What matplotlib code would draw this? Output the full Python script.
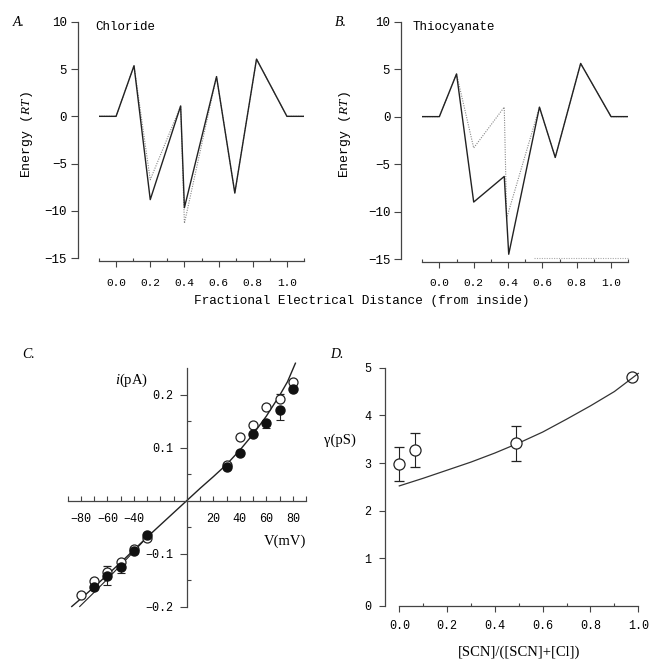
import matplotlib
matplotlib.use("Agg")
import matplotlib.pyplot as plt

plt.rcParams['font.family'] = ['Liberation Mono', 'DejaVu Sans']
plt.rcParams['mathtext.fontset'] = 'custom'
plt.rcParams['mathtext.rm'] = 'Liberation Serif'
plt.rcParams['mathtext.it'] = 'Liberation Serif:italic'
plt.rcParams['axes.unicode_minus'] = True

# --- energy profiles (A: chloride, B: thiocyanate) ---
cl_x = [-0.1, 0.0, 0.105, 0.2, 0.378, 0.4, 0.588, 0.695, 0.822, 1.0, 1.1]
cl_solid = [0, 0, 5.35, -8.8, 1.1, -9.65, 4.2, -8.1, 6.05, 0, 0]
cl_dotted = [0, 0, 5.35, -6.7, 1.1, -11.3, 4.2, -8.1, 6.05, 0, 0]

scn_x_solid = [-0.1, 0.0, 0.1, 0.2, 0.378, 0.404, 0.583, 0.675, 0.823, 1.0, 1.1]
scn_solid = [0, 0, 4.5, -9.0, -6.3, -14.5, 1.0, -4.3, 5.6, 0, 0]
scn_x_dotted = [-0.1, 0.0, 0.1, 0.2, 0.378, 0.392, 0.583, 0.675, 0.823, 1.0, 1.1]
scn_dotted = [0, 0, 4.5, -3.3, 1.0, -10.7, 1.0, -4.3, 5.6, 0, 0]
scn_trace_x = [0.55, 1.1]
scn_trace_y = [-14.85, -14.85]

dist_ticks = [0.0, 0.2, 0.4, 0.6, 0.8, 1.0]
dist_labels = ['0.0', '0.2', '0.4', '0.6', '0.8', '1.0']
energy_ticks = [-15, -10, -5, 0, 5, 10]

# --- C: single channel i-V ---
v_open = [-80, -70, -60, -50, -40, -30, 30, 40, 50, 60, 70, 80]
i_open = [-0.179, -0.151, -0.134, -0.116, -0.091, -0.071,
          0.067, 0.119, 0.143, 0.176, 0.191, 0.223]
i_open_err = [0, 0, 0.010, 0, 0, 0, 0, 0, 0, 0, 0.010, 0]
v_filled = [-70, -60, -50, -40, -30, 30, 40, 50, 60, 70, 80]
i_filled = [-0.164, -0.143, -0.125, -0.096, -0.065,
            0.064, 0.089, 0.125, 0.146, 0.171, 0.211]
i_filled_err = [0, 0.016, 0.011, 0, 0, 0, 0, 0, 0.010, 0.019, 0]

fit_v1 = [-87, -80, -70, -60, -50, -40, -30, -20, -10, 0, 10, 20, 30, 40, 50, 60, 70, 76, 82]
fit_i1 = [-0.200, -0.185, -0.163, -0.140, -0.117, -0.093, -0.069, -0.046, -0.023, 0,
          0.023, 0.045, 0.068, 0.095, 0.125, 0.159, 0.198, 0.224, 0.259]
fit_v2 = [-81, -70, -60, -50, -40, -30]
fit_i2 = [-0.200, -0.173, -0.148, -0.122, -0.096, -0.069]

# --- D: conductance vs mole fraction ---
frac = [0.0, 0.066, 0.488]
gamma = [2.98, 3.28, 3.41]
gamma_err = [0.36, 0.36, 0.36]
frac_last = [0.975]
gamma_last = [4.80]
fit_frac = [0.0, 0.1, 0.2, 0.3, 0.4, 0.5, 0.6, 0.7, 0.8, 0.9, 1.0]
fit_gamma = [2.52, 2.68, 2.85, 3.02, 3.21, 3.42, 3.65, 3.92, 4.20, 4.50, 4.88]

W, H = 654, 661
fig = plt.figure(figsize=(W / 100, H / 100), dpi=100)
AX_COLOR = '#444444'


def add_axes_px(left, top, right, bottom):
    return fig.add_axes([left / W, 1 - bottom / H, (right - left) / W, (bottom - top) / H])


def text_px(x, y, s, **kw):
    fig.text(x / W, 1 - y / H, s, **kw)


def style_spines(ax):
    for side in ['top', 'right']:
        ax.spines[side].set_visible(False)
    for side in ['left', 'bottom']:
        ax.spines[side].set_linewidth(0.9)
        ax.spines[side].set_color(AX_COLOR)
    ax.tick_params(which='both', color=AX_COLOR, width=0.8)
    ax.patch.set_alpha(0)


def energy_panel(ax):
    style_spines(ax)
    ax.spines['left'].set_position(('outward', 15))
    ax.spines['bottom'].set_position(('outward', 2))
    ax.set_xlim(-0.1, 1.1)
    ax.set_ylim(-15, 10)
    ax.set_xticks(dist_ticks)
    ax.set_xticklabels(dist_labels, fontsize=8)
    ax.set_xticks([-0.1, 0.1, 0.3, 0.5, 0.7, 0.9, 1.1], minor=True)
    ax.tick_params(axis='x', which='major', direction='out', length=4, pad=8)
    ax.tick_params(axis='x', which='minor', direction='in', length=2.5)
    ax.set_yticks(energy_ticks)
    ax.set_yticklabels(['\u221215', '\u221210', '\u22125', '0', '5', '10'], fontsize=9)
    ax.tick_params(axis='y', direction='out', length=5, pad=3)


# Panel A
axA = add_axes_px(99, 21.7, 304, 258.3)
energy_panel(axA)
axA.plot(cl_x, cl_dotted, color='#888888', lw=0.8, ls=(0, (1, 1.2)))
axA.plot(cl_x, cl_solid, color='#222222', lw=1.0)

# Panel B
axB = add_axes_px(422.2, 21.7, 628.2, 259)
energy_panel(axB)
axB.plot(scn_trace_x, scn_trace_y, color='#aaaaaa', lw=0.8, ls=(0, (1, 1.2)), clip_on=False)
axB.plot(scn_x_dotted, scn_dotted, color='#888888', lw=0.8, ls=(0, (1, 1.2)))
axB.plot(scn_x_solid, scn_solid, color='#222222', lw=1.0)

text_px(13, 22, 'A.', family='Liberation Serif', style='italic', fontsize=10, va='center')
text_px(335, 22, 'B.', family='Liberation Serif', style='italic', fontsize=10, va='center')
text_px(95, 27, 'Chloride', fontsize=9, va='center')
text_px(413, 27, 'Thiocyanate', fontsize=9, va='center')
text_px(27, 135, 'Energy ($\\it{RT}$)', fontsize=9.5, rotation=90, ha='center', va='center')
text_px(345, 135, 'Energy ($\\it{RT}$)', fontsize=9.5, rotation=90, ha='center', va='center')
text_px(362, 301, 'Fractional Electrical Distance (from inside)', fontsize=9.2,
        ha='center', va='center')

# Panel C
axC = add_axes_px(67.8, 368, 306, 606.5)
style_spines(axC)
axC.spines['left'].set_position(('data', 0))
axC.spines['bottom'].set_position(('data', 0))
axC.set_xlim(-90, 90)
axC.set_ylim(-0.2, 0.25)
axC.set_xticks([-80, -60, -40, 20, 40, 60, 80])
axC.set_xticklabels(['\u221280', '\u221260', '\u221240', '20', '40', '60', '80'], fontsize=8.5)
axC.set_xticks(list(range(-90, 91, 10)), minor=True)
axC.tick_params(axis='x', which='both', direction='in', length=3.5, pad=9)
axC.set_yticks([-0.2, -0.1, 0.1, 0.2])
axC.set_yticklabels(['\u22120.2', '\u22120.1', '0.1', '0.2'], fontsize=8.5)
axC.set_yticks([-0.15, -0.05, 0.05, 0.15], minor=True)
axC.tick_params(axis='y', which='major', direction='out', length=5, pad=5)
axC.tick_params(axis='y', which='minor', direction='in', length=3)

axC.plot(fit_v1, fit_i1, color='#222222', lw=1.0, clip_on=False, zorder=2)
axC.plot(fit_v2, fit_i2, color='#222222', lw=0.8, clip_on=False, zorder=2)
axC.errorbar(v_open, i_open, yerr=[[0] * len(v_open), i_open_err], fmt='o', ms=6.5,
             mfc='white', mec='#222222', mew=0.9, ecolor='#222222', elinewidth=0.8,
             capsize=3, capthick=0.8, zorder=3, clip_on=False)
axC.errorbar(v_filled, i_filled, yerr=[i_filled_err, [0] * len(v_filled)], fmt='o', ms=6.5,
             mfc='#111111', mec='#111111', ecolor='#222222', elinewidth=0.8,
             capsize=3, capthick=0.8, zorder=4, clip_on=False)

text_px(22, 355, 'C.', family='Liberation Serif', style='italic', fontsize=10, va='center')
text_px(132, 380, '$\\it{i}$(pA)', family='Liberation Serif', fontsize=10.5,
        ha='center', va='center')
text_px(285, 541, 'V(mV)', family='Liberation Serif', fontsize=10.5, ha='center', va='center')

# Panel D
axD = add_axes_px(399.3, 367.7, 638.3, 606)
style_spines(axD)
axD.spines['left'].set_position(('outward', 10))
axD.set_xlim(0, 1)
axD.set_ylim(0, 5)
axD.set_xticks(dist_ticks)
axD.set_xticklabels(dist_labels, fontsize=8.5)
axD.set_xticks([0.1, 0.3, 0.5, 0.7, 0.9], minor=True)
axD.tick_params(axis='x', which='major', direction='out', length=4, pad=6)
axD.tick_params(axis='x', which='minor', direction='in', length=2.5)
axD.set_yticks([0, 1, 2, 3, 4, 5])
axD.set_yticklabels(['0', '1', '2', '3', '4', '5'], fontsize=8.5)
axD.tick_params(axis='y', direction='out', length=4, pad=6)

axD.plot(fit_frac, fit_gamma, color='#333333', lw=0.9, clip_on=False, zorder=2)
axD.errorbar(frac, gamma, yerr=gamma_err, fmt='o', ms=8, mfc='white', mec='#222222',
             mew=0.9, ecolor='#222222', elinewidth=0.8, capsize=3.5, capthick=0.8,
             zorder=3, clip_on=False)
axD.plot(frac_last, gamma_last, 'o', ms=8, mfc='none', mec='#222222', mew=0.9,
         zorder=3, clip_on=False)

text_px(330, 355, 'D.', family='Liberation Serif', style='italic', fontsize=10, va='center')
text_px(340, 440, '\u03b3(pS)', family='Liberation Serif', fontsize=10.5, ha='center', va='center')
text_px(519, 652, '[SCN]/([SCN]+[Cl])', family='Liberation Serif', fontsize=10.5,
        ha='center', va='center')

fig.savefig('out.png', dpi=100)
